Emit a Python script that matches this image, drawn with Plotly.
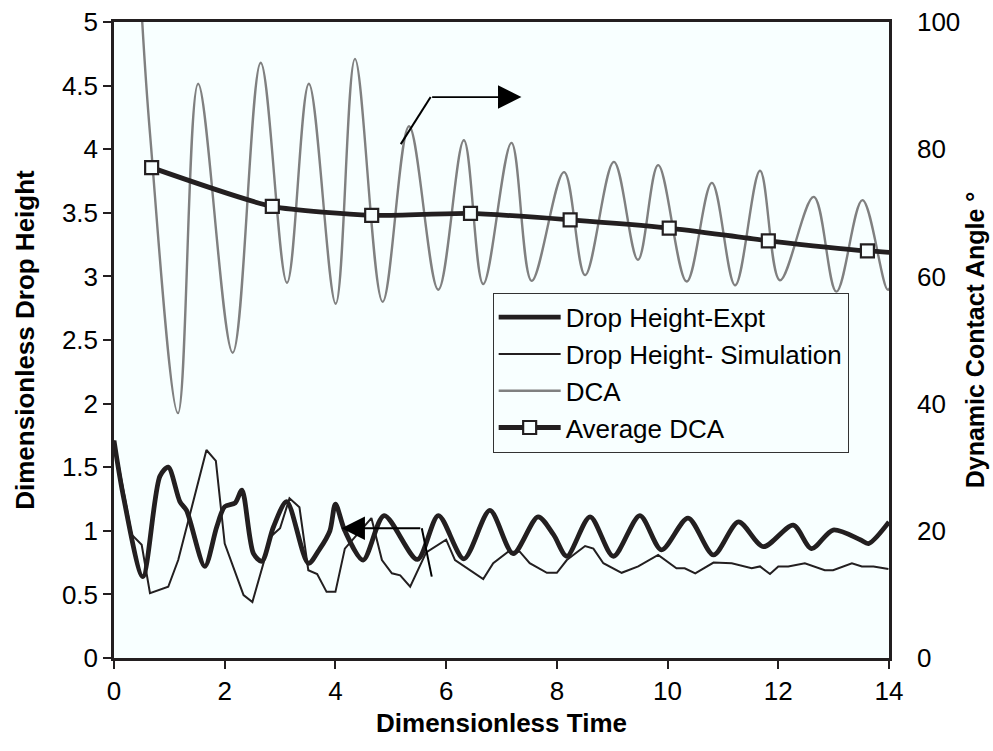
import plotly.graph_objects as go

# ---------------- data ----------------
t_expt = [0, 0.17, 0.52, 0.83, 0.98, 1.19, 1.31, 1.64, 1.855, 2.0, 2.19, 2.31, 2.52, 2.67, 2.88, 3.12,
          3.51, 3.72, 3.90, 4.0, 4.17, 4.5, 4.88, 5.48, 5.86, 6.32, 6.79, 7.21, 7.66, 7.94, 8.18, 8.60,
          9.02, 9.50, 9.89, 10.37, 10.83, 11.28, 11.73, 12.27, 12.60, 12.99, 13.48, 13.63, 14.0]
h_expt = [1.71, 1.27, 0.64, 1.43, 1.50, 1.23, 1.16, 0.72, 1.03, 1.19, 1.22, 1.32, 0.82, 0.76, 1.03, 1.23,
          0.745, 0.86, 1.0, 1.21, 1.0, 0.77, 1.12, 0.775, 1.12, 0.78, 1.16, 0.82, 1.11, 0.97, 0.80, 1.11,
          0.80, 1.12, 0.85, 1.10, 0.81, 1.07, 0.875, 1.045, 0.86, 1.006, 0.93, 0.90, 1.07]

t_sim = [0, 0.32, 0.50, 0.65, 0.98, 1.16, 1.67, 1.84, 2.0, 2.34, 2.50, 2.70, 2.82, 3.0, 3.17, 3.35,
         3.51, 3.67, 3.84, 4.0, 4.17, 4.65, 4.84, 5.02, 5.17, 5.35, 5.64, 6.0, 6.16, 6.67, 6.85, 7.12,
         7.33, 7.51, 7.82, 8.0, 8.18, 8.51, 8.66, 8.84, 9.17, 9.47, 9.83, 10.16, 10.31, 10.50, 10.83,
         11.16, 11.52, 11.67, 11.85, 12.0, 12.18, 12.48, 12.84, 12.99, 13.33, 13.51, 13.72, 13.99]
h_sim = [1.71, 0.97, 0.89, 0.51, 0.56, 0.77, 1.635, 1.55, 0.90, 0.495, 0.44, 0.745, 0.95, 1.02, 1.255, 1.185,
         0.69, 0.66, 0.52, 0.52, 0.86, 1.10, 0.77, 0.666, 0.65, 0.56, 0.83, 0.93, 0.77, 0.62, 0.745, 0.836,
         0.836, 0.745, 0.67, 0.67, 0.77, 0.88, 0.86, 0.745, 0.67, 0.72, 0.81, 0.705, 0.705, 0.666, 0.75,
         0.745, 0.705, 0.72, 0.66, 0.72, 0.72, 0.745, 0.69, 0.69, 0.745, 0.72, 0.72, 0.70]

t_dca = [0.50, 0.65, 1.156, 1.52, 2.144, 2.65, 3.125, 3.52, 4.005, 4.353, 4.853, 5.33, 5.858, 6.32,
         6.67, 7.18, 7.545, 8.13, 8.51, 9.03, 9.465, 9.83, 10.345, 10.80, 11.22, 11.67, 12.03, 12.64,
         13.05, 13.52, 13.98, 14.14]
dca = [101.5, 82.5, 38.5, 90.3, 48.0, 93.6, 59.0, 90.3, 55.7, 94.2, 56.0, 83.6, 57.9, 81.4,
       58.8, 81.0, 59.3, 76.4, 60.2, 78.0, 62.6, 77.5, 59.2, 74.7, 58.6, 76.6, 59.4, 72.5,
       57.6, 72.0, 57.9, 67.8]

t_avg = [0.68, 2.86, 4.655, 6.44, 8.24, 10.03, 11.82, 13.61, 15.4]
avg_dca = [77.1, 71.0, 69.6, 69.9, 68.9, 67.6, 65.6, 64.0, 63.2]

x_ticks = [0, 2, 4, 6, 8, 10, 12, 14]
y_ticks = [0, 0.5, 1, 1.5, 2, 2.5, 3, 3.5, 4, 4.5, 5]
y_tick_text = ["0", "0.5", "1", "1.5", "2", "2.5", "3", "3.5", "4", "4.5", "5"]
y2_ticks = [0, 20, 40, 60, 80, 100]

# ---------------- style ----------------
BG = "#F8FFFF"
INK = "#231F20"
FONT = "Liberation Sans, Arial, sans-serif"

fig = go.Figure()
fig.add_trace(go.Scatter(x=t_expt, y=h_expt, name="Drop Height-Expt", mode="lines",
                         line=dict(color=INK, width=4.8, shape="spline", smoothing=0.8)))
fig.add_trace(go.Scatter(x=t_sim, y=h_sim, name="Drop Height- Simulation", mode="lines",
                         line=dict(color=INK, width=2)))
fig.add_trace(go.Scatter(x=t_dca, y=dca, name="DCA", mode="lines", yaxis="y2",
                         line=dict(color="#808080", width=2.4, shape="spline", smoothing=1.0)))
fig.add_trace(go.Scatter(x=t_avg, y=avg_dca, name="Average DCA", mode="lines+markers", yaxis="y2",
                         line=dict(color=INK, width=4.8, shape="spline", smoothing=0.6),
                         marker=dict(symbol="square", size=13, color=BG,
                                     line=dict(color=INK, width=2.2))))

# arrows
fig.add_shape(type="line", x0=5.18, y0=4.04, x1=5.72, y1=4.41, xref="x", yref="y",
              line=dict(color="black", width=2))
fig.add_annotation(x=7.36, y=4.41, ax=5.72, ay=4.41, xref="x", yref="y", axref="x", ayref="y",
                   text="", showarrow=True, arrowhead=2, arrowsize=2.6, arrowwidth=1.8,
                   arrowcolor="black", standoff=0, startstandoff=0)
fig.add_shape(type="line", x0=5.74, y0=0.64, x1=5.56, y1=1.02, xref="x", yref="y",
              line=dict(color="black", width=2))
fig.add_annotation(x=4.11, y=1.02, ax=5.56, ay=1.02, xref="x", yref="y", axref="x", ayref="y",
                   text="", showarrow=True, arrowhead=2, arrowsize=2.6, arrowwidth=1.8,
                   arrowcolor="black", standoff=0, startstandoff=0)

fig.update_layout(
    width=993, height=751,
    margin=dict(l=114, r=104, t=22, b=93, autoexpand=False),
    paper_bgcolor="white", plot_bgcolor=BG,
    font=dict(family=FONT, size=26, color="black"),
    showlegend=True,
    legend=dict(x=0.4886, y=0.5744, xanchor="left", yanchor="top",
                bgcolor=BG, bordercolor="#333333", borderwidth=1,
                font=dict(family=FONT, size=26, color="black"),
                itemwidth=62, tracegroupgap=0),
    xaxis=dict(range=[0, 14], tickmode="array", tickvals=x_ticks, automargin=False,
               showgrid=False, zeroline=False,
               showline=True, linecolor=INK, linewidth=2.5, mirror=True,
               ticks="outside", ticklen=8, tickwidth=1.5, tickcolor=INK,
               tickfont=dict(size=26),
               title=dict(text="<b>Dimensionless Time</b>", font=dict(size=26), standoff=9)),
    yaxis=dict(range=[0, 5], tickmode="array", tickvals=y_ticks, ticktext=y_tick_text, automargin=False,
               showgrid=False, zeroline=False,
               showline=True, linecolor=INK, linewidth=2.5,
               ticks="outside", ticklen=8, tickwidth=1.5, tickcolor=INK,
               tickfont=dict(size=26),
               title=dict(text="<b>Dimensionless Drop Height</b>", font=dict(size=26), standoff=20)),
    yaxis2=dict(range=[0, 100], tickmode="array", tickvals=y2_ticks, overlaying="y", side="right",
                automargin=False,
                showgrid=False, zeroline=False,
                showline=True, linecolor=INK, linewidth=2.5,
                ticks="", ticklabelstandoff=20,
                tickfont=dict(size=26),
                title=dict(text="<b>Dynamic Contact Angle °</b>", font=dict(size=25), standoff=8)),
)

fig.write_html("out.html")
